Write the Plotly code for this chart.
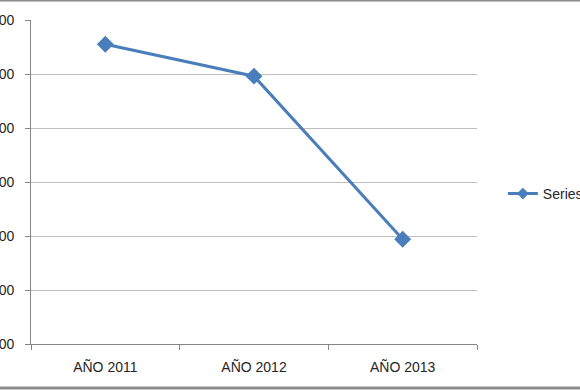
import plotly.graph_objects as go

categories = ["AÑO 2011", "AÑO 2012", "AÑO 2013"]
values = [755, 696, 394]
series_name = "Series1"
y_ticks = [200, 300, 400, 500, 600, 700, 800]

W, H = 580, 390
ml, mr, mt, mb = 31, 103, 20, 46
blue = "#4A7EBB"

fig = go.Figure()
fig.add_trace(go.Scatter(
    x=categories, y=values, name=series_name, mode="lines+markers",
    line=dict(color=blue, width=3),
    marker=dict(symbol="diamond", size=13, color=blue),
    showlegend=False,
))
# legend-only entry with a smaller marker, like the reference legend
fig.add_trace(go.Scatter(
    x=[None], y=[None], name=series_name, mode="lines+markers",
    line=dict(color=blue, width=3),
    marker=dict(symbol="diamond", size=9, color=blue),
    showlegend=True,
))

ph = H - mt - mb
def py(p):
    return (H - mb - p) / ph

fig.update_layout(
    width=W, height=H,
    margin=dict(l=ml, r=mr, t=mt, b=mb, autoexpand=False),
    paper_bgcolor="white", plot_bgcolor="white",
    font=dict(family="Liberation Sans, Arial, sans-serif", size=14, color="#262626"),
    showlegend=True,
    legend=dict(x=1.058, y=0.463, xanchor="left", yanchor="middle",
                font=dict(size=14, color="#262626"), bgcolor="rgba(0,0,0,0)",
                itemwidth=30),
    xaxis=dict(type="category", range=[-0.5, 2.5], showgrid=False, showline=True,
               linecolor="#868686", linewidth=1, ticks="outside", tickson="boundaries",
               ticklen=5, tickcolor="#868686", automargin=False, fixedrange=True,
               ticklabelstandoff=10),
    yaxis=dict(range=[y_ticks[0], y_ticks[-1]], tickvals=y_ticks, showgrid=True,
               gridcolor="#BEBEBE", gridwidth=1, showline=True, linecolor="#868686",
               ticks="outside", ticklen=5, tickcolor="#868686", zeroline=False,
               automargin=False, ticklabelstandoff=8, fixedrange=True),
    shapes=[
        dict(type="line", xref="paper", yref="paper", x0=-0.2, x1=1.4,
             y0=py(0.5), y1=py(0.5), line=dict(color="#8C8C8C", width=2)),
        dict(type="line", xref="paper", yref="paper", x0=-0.2, x1=1.4,
             y0=py(388), y1=py(388), line=dict(color="#8C8C8C", width=3)),
    ],
)

fig.write_html("out.html", config={"displayModeBar": False},
               post_script="document.body.style.margin='0';")
